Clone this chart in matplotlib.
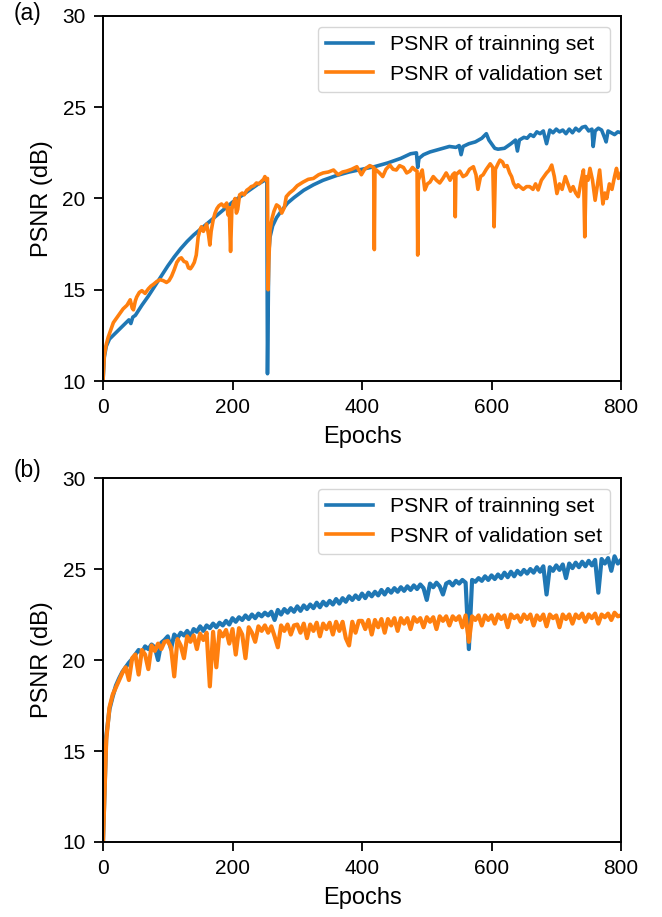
import numpy as np
import matplotlib
matplotlib.use("Agg")
import matplotlib.pyplot as plt

plt.rcParams['font.family'] = ['Liberation Sans', 'DejaVu Sans']

# ---------------- Panel (a) ----------------
a_train = [
    (0, 10.0), (2, 11.3), (5, 11.9), (10, 12.3), (20, 12.65), (30, 13.0), (40, 13.35), (43, 13.15),
    (46, 13.5), (50, 13.6), (60, 14.15), (70, 14.65), (80, 15.2), (90, 15.75), (100, 16.3),
    (110, 16.8), (120, 17.25), (130, 17.65), (140, 18.0), (150, 18.3), (160, 18.6), (170, 18.9),
    (180, 19.2), (190, 19.5), (200, 19.8), (210, 20.05), (220, 20.3), (230, 20.55), (240, 20.8),
    (250, 21.0), (253, 21.05), (254, 10.4), (256, 17.0), (258, 17.9), (262, 18.5), (268, 18.95),
    (275, 19.3), (285, 19.75), (295, 20.05), (310, 20.45), (325, 20.75), (340, 21.0), (360, 21.25),
    (380, 21.45), (400, 21.6), (420, 21.75), (440, 21.95), (460, 22.2), (475, 22.45), (484, 22.5),
    (486, 21.7), (488, 22.2), (495, 22.4), (505, 22.55), (515, 22.65), (525, 22.75), (535, 22.85),
    (545, 22.8), (550, 22.9), (553, 22.4), (556, 22.85), (565, 23.0), (575, 23.1), (585, 23.3),
    (592, 23.55), (596, 23.2), (600, 23.0), (605, 22.75), (610, 22.7), (620, 22.75), (630, 23.0),
    (637, 23.2), (640, 22.6), (643, 23.2), (650, 23.35), (655, 23.3), (660, 23.5), (665, 23.4),
    (670, 23.65), (675, 23.55), (680, 23.7), (685, 23.0), (690, 23.75), (695, 23.6), (700, 23.8),
    (705, 23.65), (710, 23.75), (715, 23.55), (720, 23.8), (725, 23.6), (730, 23.85), (735, 23.7),
    (740, 23.9), (745, 23.95), (750, 23.7), (755, 23.8), (757, 22.85), (760, 23.7), (765, 23.85),
    (770, 23.75), (775, 23.3), (777, 23.1), (780, 23.7), (785, 23.6), (790, 23.5), (795, 23.65),
    (800, 23.6),
]

a_val = [
    (0, 10.0), (2, 11.4), (5, 12.0), (8, 12.4), (12, 12.8), (16, 13.2), (21, 13.45), (26, 13.7),
    (31, 13.95), (37, 14.15), (42, 14.45), (45, 14.0), (47, 13.9), (50, 14.4), (52, 14.6),
    (56, 14.85), (60, 14.95), (65, 14.8), (70, 15.05), (74, 15.2), (78, 15.3), (83, 15.45),
    (88, 15.55), (93, 15.5), (98, 15.4), (102, 15.5), (106, 15.75), (110, 16.1), (114, 16.5),
    (118, 16.7), (121, 16.75), (125, 16.55), (129, 16.5), (132, 16.2), (135, 16.15), (138, 16.3),
    (141, 16.5), (144, 16.9), (147, 17.9), (150, 18.3), (152, 18.45), (155, 18.2), (157, 18.35),
    (160, 18.6), (163, 18.0), (165, 17.45), (167, 18.2), (170, 18.8), (173, 19.2), (176, 19.45),
    (179, 19.6), (183, 19.7), (187, 19.55), (191, 19.75), (193, 19.1), (195, 19.5), (197, 17.1),
    (199, 19.4), (201, 19.7), (204, 20.0), (206, 19.2), (208, 19.4), (211, 20.2), (215, 20.3),
    (218, 20.2), (222, 20.45), (226, 20.55), (229, 20.65), (233, 20.7), (237, 20.85), (241, 20.8),
    (245, 20.95), (248, 21.05), (250, 21.2), (252, 21.0), (254, 21.1), (255, 15.0), (256, 16.5),
    (258, 18.27), (261, 18.9), (264, 19.3), (268, 19.65), (272, 19.55), (276, 19.2), (280, 19.5),
    (283, 20.1), (288, 20.3), (294, 20.47), (300, 20.7), (309, 20.9), (317, 21.05), (325, 21.1),
    (333, 21.3), (340, 21.4), (348, 21.45), (356, 21.56), (363, 21.3), (370, 21.45), (376, 21.5),
    (384, 21.6), (392, 21.74), (396, 21.5), (399, 21.3), (404, 21.6), (412, 21.8), (418, 21.7),
    (419, 17.2), (420, 21.6), (422, 21.56), (427, 21.4), (432, 21.2), (437, 21.6), (443, 21.83),
    (448, 21.6), (453, 21.56), (458, 21.8), (464, 21.7), (469, 21.4), (474, 21.5), (478, 21.7),
    (482, 21.56), (485, 21.5), (486, 16.9), (487, 21.0), (490, 21.3), (493, 21.56), (497, 20.47),
    (501, 20.8), (505, 20.9), (510, 21.2), (515, 21.0), (520, 20.85), (525, 21.1), (530, 21.4),
    (536, 21.0), (540, 21.3), (543, 21.4), (544, 19.0), (545, 21.3), (551, 21.5), (556, 21.2),
    (561, 21.3), (566, 21.6), (572, 21.74), (576, 21.3), (579, 20.5), (583, 21.2), (587, 21.3),
    (592, 21.6), (598, 21.9), (602, 21.7), (604, 18.45), (606, 21.6), (610, 21.9), (613, 22.1),
    (617, 22.0), (620, 21.75), (624, 21.8), (628, 21.4), (631, 21.2), (634, 20.83), (638, 20.6),
    (641, 20.75), (644, 20.65), (649, 20.5), (654, 20.65), (659, 20.65), (664, 20.5), (668, 20.8),
    (672, 20.47), (677, 21.0), (681, 21.2), (685, 21.4), (689, 21.55), (693, 21.83), (697, 21.2),
    (701, 20.27), (705, 20.8), (709, 20.5), (714, 21.2), (718, 20.8), (722, 20.4), (726, 20.65),
    (730, 20.3), (734, 20.1), (738, 20.9), (742, 21.56), (744, 17.9), (746, 21.2), (749, 21.0),
    (752, 21.65), (756, 21.0), (760, 19.9), (763, 20.6), (767, 21.56), (770, 20.4), (772, 19.7),
    (775, 20.3), (778, 20.0), (782, 20.8), (786, 20.5), (790, 21.2), (793, 21.65), (796, 21.1),
    (800, 21.4),
]

# ---------------- Panel (b) ----------------
b_epochs = list(range(0, 805, 5))
b_train = [
    10.0, 15.8, 17.3, 18.0, 18.6, 19.0, 19.35, 19.6, 19.85, 20.05,
    20.3, 20.55, 20.4, 20.75, 20.6, 20.85, 20.7, 20.0, 20.95, 21.1,
    21.3, 20.6, 21.4, 21.2, 21.5, 21.35, 21.6, 21.3, 21.7, 21.55,
    21.85, 21.6, 21.9, 21.75, 22.0, 21.8, 22.05, 21.9, 22.15, 21.95,
    22.3, 22.1, 22.35, 22.2, 22.45, 22.25, 22.5, 22.3, 22.55, 22.4,
    22.6, 22.45, 22.65, 22.2, 22.75, 22.5, 22.8, 22.6, 22.85, 22.65,
    22.95, 22.7, 23.0, 22.8, 23.05, 22.85, 23.15, 22.9, 23.2, 23.0,
    23.25, 23.05, 23.35, 23.1, 23.4, 23.2, 23.5, 23.3, 23.55, 23.35,
    23.65, 23.4, 23.7, 23.5, 23.75, 23.55, 23.85, 23.6, 23.9, 23.7,
    23.95, 23.75, 24.0, 23.8, 24.05, 23.85, 24.1, 23.9, 24.15, 23.95,
    23.3, 24.2, 24.0, 24.25, 24.05, 23.6, 24.2, 24.3, 24.1, 24.35,
    24.2, 24.4, 24.25, 20.6, 24.4, 24.3, 24.5, 24.35, 24.6, 24.4,
    24.65, 24.45, 24.7, 24.5, 24.8, 24.55, 24.85, 24.6, 24.9, 24.7,
    24.95, 24.75, 25.0, 24.8, 25.1, 24.85, 25.15, 23.6, 25.1, 24.9,
    25.2, 24.95, 25.25, 24.5, 25.3, 25.05, 25.35, 25.1, 25.4, 25.15,
    25.45, 25.2, 25.5, 23.7, 25.55, 25.3, 25.6, 24.9, 25.7, 25.3,
    25.5,
]
b_val = [
    10.0, 15.6, 17.4, 18.1, 18.5, 18.9, 19.3, 19.6, 18.9, 20.1,
    20.3, 19.2, 20.55, 20.3, 19.5, 20.8, 20.5, 20.9, 20.6, 21.0,
    21.05, 20.7, 19.1, 21.15, 20.8, 20.1, 21.3, 21.0, 21.35, 20.6,
    21.45, 21.1, 21.5, 18.55, 21.55, 19.6, 21.6, 21.3, 21.65, 20.9,
    21.7, 20.3, 21.75, 21.4, 20.1, 21.8, 21.5, 21.0, 21.85, 21.6,
    21.9, 21.5, 21.85, 21.3, 20.7, 21.9, 21.6, 21.95, 21.4, 21.9,
    21.95, 21.5, 22.0, 21.2, 21.95, 21.6, 22.05, 21.3, 22.0, 21.7,
    22.05, 21.4, 22.1, 21.6, 22.1, 21.2, 20.8, 22.1, 21.5, 22.15,
    22.15, 21.7, 22.2, 21.4, 22.2, 21.8, 22.25, 21.5, 22.25, 21.9,
    22.3, 21.6, 22.3, 22.0, 22.3, 21.7, 22.35, 22.1, 22.3, 21.8,
    22.35, 22.1, 22.35, 21.7, 22.4, 22.15, 22.4, 21.9, 22.4, 22.2,
    22.4, 21.8, 22.45, 21.0, 22.4, 22.2, 22.45, 21.9, 22.45, 22.2,
    22.45, 22.0, 22.5, 22.25, 22.45, 21.8, 22.5, 22.3, 22.45, 22.1,
    22.5, 22.25, 22.5, 21.9, 22.45, 22.2, 22.5, 21.85, 22.5, 22.3,
    22.45, 21.8, 22.5, 22.25, 22.5, 22.0, 22.5, 22.3, 22.55, 22.1,
    22.5, 22.3, 22.55, 22.0, 22.5, 22.35, 22.55, 22.2, 22.6, 22.4,
    22.45,
]

legend_labels = ["PSNR of trainning set", "PSNR of validation set"]
panel_labels = ["(a)", "(b)"]
x_ticks = [0, 200, 400, 600, 800]
y_ticks = [10, 15, 20, 25, 30]

blue = "#1f77b4"
orange = "#ff7f0e"

fig = plt.figure(figsize=(6.62, 9.17), dpi=100)
ax_a = fig.add_axes([0.1556, 0.5845, 0.7825, 0.3981])
ax_b = fig.add_axes([0.1556, 0.0818, 0.7825, 0.3969])

ea, va = zip(*a_train)
eva, vva = zip(*a_val)
ax_a.plot(ea, va, color=blue, lw=2.6, label=legend_labels[0])
ax_a.plot(eva, vva, color=orange, lw=2.6, label=legend_labels[1])

ax_b.plot(b_epochs, b_train, color=blue, lw=3.0, label=legend_labels[0])
ax_b.plot(b_epochs, b_val, color=orange, lw=3.0, label=legend_labels[1])

for ax in (ax_a, ax_b):
    ax.set_xlim(0, 800)
    ax.set_ylim(10, 30)
    ax.set_xticks(x_ticks)
    ax.set_yticks(y_ticks)
    ax.tick_params(labelsize=15, width=1.3, length=6.5, pad=6)
    for s in ax.spines.values():
        s.set_linewidth(1.4)
    ax.set_xlabel("Epochs", fontsize=17, labelpad=6)
    ax.set_ylabel("PSNR (dB)", fontsize=17, labelpad=7)
    leg = ax.legend(loc="upper right", fontsize=15.3, handlelength=2.2)
    for line in leg.get_lines():
        line.set_linewidth(2.6)

fig.text(0.02, 0.998, panel_labels[0], fontsize=16.5, va="top", ha="left")
fig.text(0.02, 0.499, panel_labels[1], fontsize=16.5, va="top", ha="left")

fig.savefig("out.png", dpi=100)
